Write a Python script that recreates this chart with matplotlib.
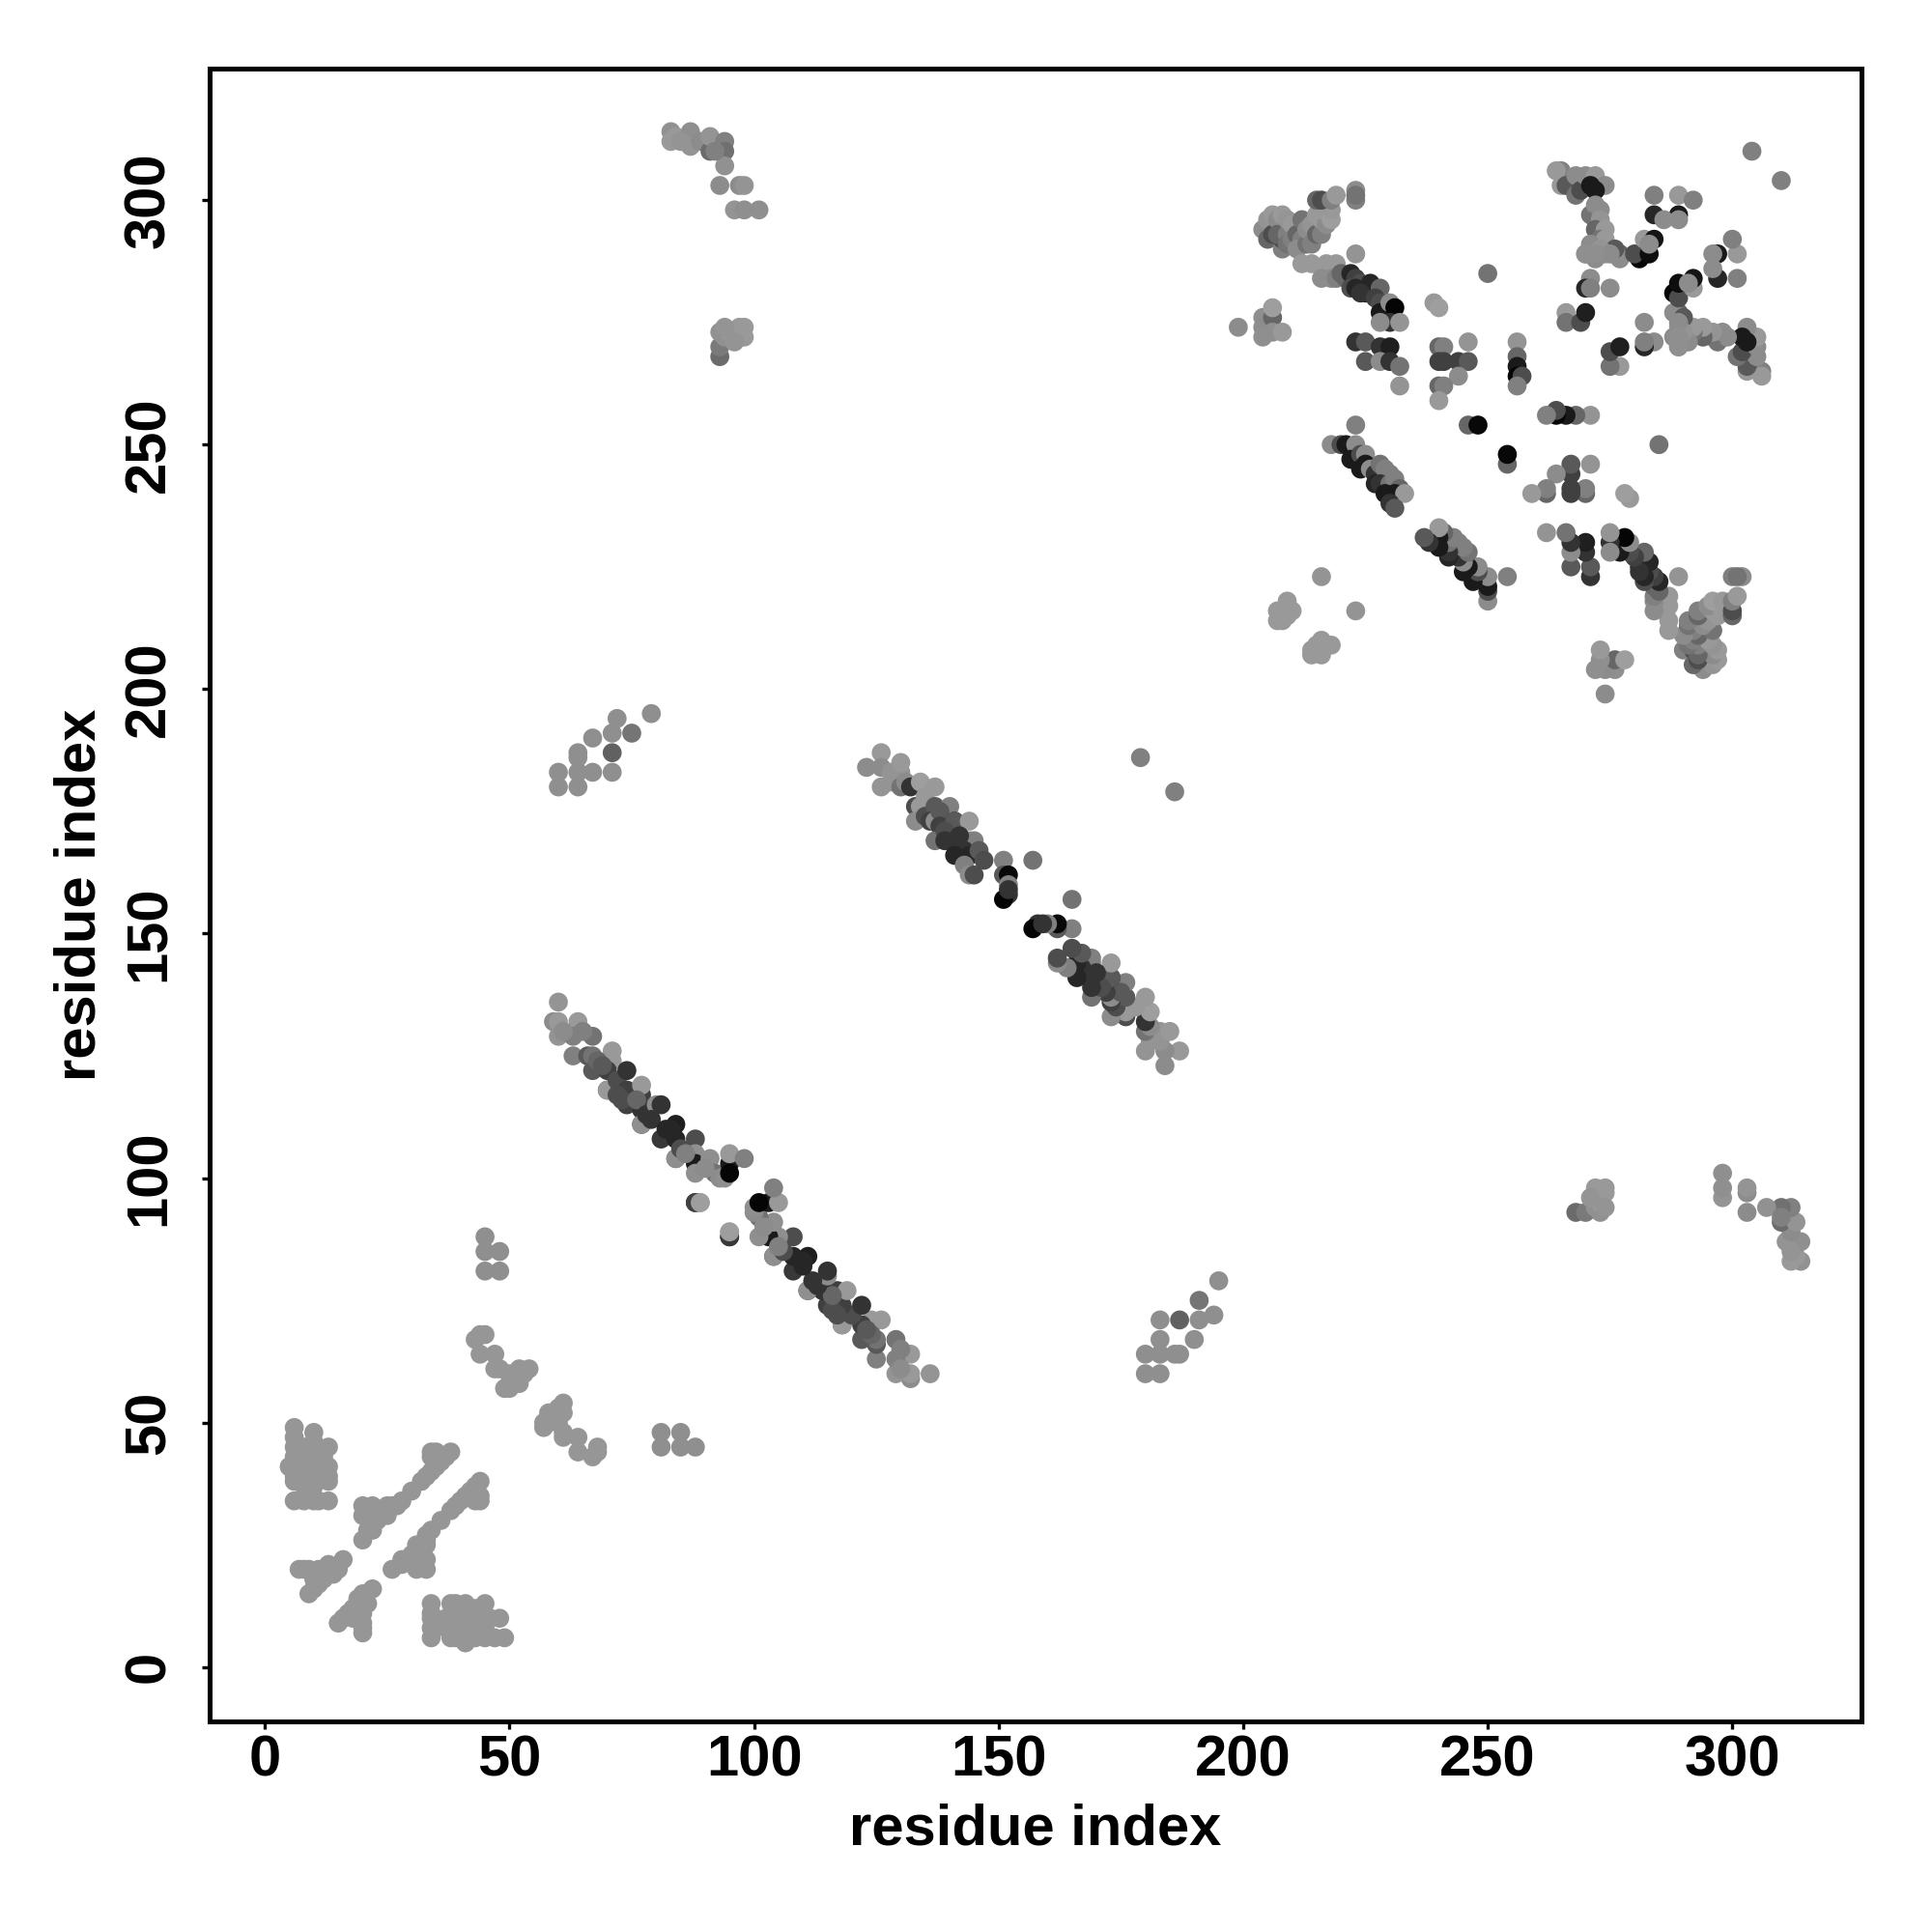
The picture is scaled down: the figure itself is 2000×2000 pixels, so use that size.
import numpy as np
import matplotlib
matplotlib.use("Agg")
import matplotlib.pyplot as plt

# contacts are stored once (i < j), the map is symmetric so both halves get drawn
block_i = [6,6,10,10,13,6,8,9,7,11,5,7,9,11,13,6,8,10,13,13,6,10,6,8,10,11,13]
block_j = [49,47,48,46,45,45,45,44,43,43,41,41,41,41,41,39,39,39,39,38,38,37,34,34,34,34,34]
block_g = 0.59

block2_i = [6,7,8,9,10,5,7,8,10,12,7,8]
block2_j = [43,39,37,42,38,41,41,41,44,43,44,38]
block2_g = 0.59

strand_i = [20,20,21,22,22,20,21,22,23,24,24,25,25,26,27,28,30,32,33,34,34,35,36,34,35,38,37]
strand_j = [26,33,28,28,30,31,32,33,30,32,31,31,33,33,33,34,36,38,39,40,43,41,42,44,44,44,43]
strand_g = 0.59

short_i = [7,9,10,11,12,13,14,15,16,9,10,11,12,10,13,8,14]
short_j = [20,20,19,20,20,21,20,20,22,15,16,17,18,18,19,20,19]
short_g = 0.59

near_i = [43,44,45,44,47,47,48,50,51,52,52,53,54,49,50,50,51,52]
near_j = [67,68,68,64,64,61,61,60,60,60,61,60,61,57,57,58,58,58]
near_g = 0.59

side_i = [45,45,48,45,48,60,60,64,64,64,67,67,71,71,72,79,64]
side_j = [88,85,85,81,81,183,180,180,183,187,183,190,183,191,194,195,186]
side_g = 0.56

side2_i = [71,75]
side2_j = [187,191]
side2_g = [0.38,0.46]

loop_i = [93,93,93,94,95,96,97,98,98,96,94,83,83,84,87,87,85,89,91,91,94,94,94,92,93,97,98,96,98,101]
loop_j = [268,270,273,272,273,273,274,272,274,271,274,314,312,313,314,311,312,312,310,313,312,310,307,310,303,303,303,298,298,298]
loop_g = [0.42,0.48,0.57,0.57,0.6,0.6,0.6,0.6,0.6,0.58,0.58,0.57,0.6,0.6,0.56,0.58,0.58,0.55,0.42,0.58,0.5,0.44,0.57,0.5,0.55,0.55,0.58,0.58,0.56,0.56]

band1_i = [60,59,60,64,60,63,67,61,65,63,66,67,71,71,67,70,68,69,70,70,72,74,74,74,72,73,77,77,77,76,77,77,78,80,81,79,81,82,84,84,84,84,83,85,88,88,88,88,86,91,92,90,93,95,95,98,94,95,88,89,95,95]
band1_j = [136,132,132,132,129,129,129,130,130,125,125,125,126,124,122,122,124,123,118,118,120,122,118,115,117,116,117,119,114,116,111,111,113,115,115,112,108,110,111,108,104,104,110,106,108,105,103,101,105,104,101,102,100,103,105,104,100,101,95,95,88,89]
band1_g = [0.58,0.55,0.6,0.6,0.58,0.5,0.45,0.55,0.5,0.5,0.35,0.45,0.6,0.6,0.35,0.25,0.4,0.35,0.35,0.6,0.3,0.2,0.25,0.25,0.3,0.3,0.25,0.6,0.2,0.4,0.3,0.56,0.2,0.55,0.2,0.2,0.22,0.15,0.12,0.15,0.35,0.56,0.15,0.3,0.3,0.56,0.1,0.56,0.5,0.56,0.45,0.55,0.55,0.1,0.6,0.5,0.56,0.02,0.22,0.62,0.25,0.62]

band2_i = [123,126,126,126,128,128,130,130,130,131,132,134,137,133,134,133,135,135,137,140,136,137,138,138,141,141,144,137,139,139,141,144,145,142,143,141,144,146,147,143,144,145,151,157,151,152,152,152,151,152,179]
band2_j = [184,187,184,180,183,181,183,185,180,181,180,181,180,176,176,173,178,174,176,176,173,173,175,172,173,173,173,169,171,169,169,169,169,170,167,166,166,167,165,164,162,162,165,165,162,162,158,160,157,159,186]
band2_g = [0.55,0.6,0.55,0.58,0.58,0.58,0.58,0.6,0.45,0.55,0.2,0.62,0.6,0.3,0.6,0.55,0.6,0.3,0.35,0.5,0.25,0.55,0.35,0.25,0.2,0.35,0.6,0.45,0.3,0.2,0.2,0.55,0.5,0.2,0.2,0.15,0.15,0.35,0.3,0.5,0.55,0.3,0.5,0.45,0.35,0.03,0.2,0.5,0.02,0.2,0.5]

top_i = [199,204,204,204,206,206,206,208,204,205,205,206,206,207,208,208,208,207,209,209,210,209,210,211,212,212,211,213,213,214,214,215,215,216,216,217,216,217,218,218,215,216,218,219,223,223,223,212,214,217,219,216,218,219,223]
top_j = [274,276,274,272,276,278,273,273,294,292,296,297,293,296,290,297,292,293,293,296,295,291,292,293,296,292,290,291,294,295,291,293,297,293,296,295,298,298,296,298,300,300,300,301,302,300,301,287,287,287,287,284,284,284,289]
top_g = [0.55,0.56,0.55,0.56,0.4,0.62,0.56,0.6,0.55,0.4,0.58,0.6,0.3,0.55,0.5,0.6,0.3,0.4,0.5,0.58,0.6,0.45,0.5,0.4,0.45,0.5,0.55,0.45,0.55,0.58,0.5,0.4,0.6,0.5,0.6,0.55,0.6,0.6,0.62,0.6,0.4,0.3,0.5,0.6,0.55,0.5,0.45,0.6,0.6,0.6,0.6,0.55,0.55,0.5,0.58]

strand2_i = [220,221,222,223,224,222,223,226,225,224,228,227,228,228,230,231,230,232]
strand2_j = [285,284,285,284,283,282,282,283,281,281,282,280,279,277,279,278,275,275]
strand2_g = [0.4,0.4,0.15,0.25,0.3,0.3,0.15,0.15,0.15,0.2,0.4,0.25,0.3,0.1,0.55,0.02,0.2,0.58]

mid_i = [228,223,225,228,230,225,228,230,232,232,239,240,240,241,246,240,241,244,246,244,240,241,240,256,256,256,256,257,256,246,248,250,216]
mid_j = [275,271,271,270,270,267,267,267,266,262,279,278,270,270,271,267,267,267,267,264,262,262,259,271,268,266,264,264,262,254,254,285,223]
mid_g = [0.55,0.2,0.35,0.2,0.12,0.35,0.55,0.2,0.45,0.58,0.6,0.62,0.4,0.5,0.58,0.25,0.25,0.25,0.35,0.55,0.4,0.5,0.6,0.58,0.4,0.1,0.02,0.3,0.5,0.4,0.03,0.45,0.58]

low_i = [209,207,207,210,209,208]
low_j = [218,216,214,216,215,214]
low_g = 0.6

band3_i = [223,218,220,221,223,222,224,225,225,224,226,227,228,227,229,230,228,230,231,229,232,231,233,230,231]
band3_j = [254,250,250,250,250,247,248,248,246,245,245,244,246,242,245,244,242,242,243,240,241,240,240,238,237]
band3_g = [0.5,0.55,0.3,0.1,0.55,0.1,0.3,0.55,0.1,0.1,0.55,0.2,0.45,0.15,0.5,0.5,0.2,0.45,0.5,0.1,0.4,0.1,0.6,0.2,0.35]

corner_i = [265,264,265,266,268,268,268,269,270,272,274,271,272,271,272,272,273,273,272,274,273,274,271,270,271,273,274,277,277,276,271,270,271,275,266,266,269,270]
corner_j = [306,306,303,303,303,301,305,302,305,305,303,303,302,297,299,296,298,296,294,294,292,292,291,289,289,289,289,289,288,290,284,282,282,282,277,275,275,277]
corner_g = [0.5,0.6,0.6,0.35,0.35,0.45,0.55,0.3,0.55,0.6,0.55,0.1,0.1,0.45,0.55,0.45,0.55,0.58,0.4,0.6,0.45,0.6,0.55,0.6,0.55,0.5,0.6,0.4,0.55,0.35,0.55,0.15,0.5,0.55,0.6,0.45,0.3,0.12]

corner2_i = [281,280,282,283,284,284,284,289,292,289,286,289,283,304,288,290,289,289,289]
corner2_j = [288,289,292,289,292,301,297,301,300,297,296,296,291,310,272,273,275,272,270]
corner2_g = [0.02,0.3,0.6,0.05,0.08,0.5,0.15,0.6,0.5,0.1,0.55,0.55,0.55,0.5,0.55,0.58,0.55,0.56,0.56]

groups = [
    (block_i, block_j, block_g),
    (block2_i, block2_j, block2_g),
    (strand_i, strand_j, strand_g),
    (short_i, short_j, short_g),
    (near_i, near_j, near_g),
    (side_i, side_j, side_g),
    (side2_i, side2_j, side2_g),
    (loop_i, loop_j, loop_g),
    (band1_i, band1_j, band1_g),
    (band2_i, band2_j, band2_g),
    (top_i, top_j, top_g),
    (strand2_i, strand2_j, strand2_g),
    (mid_i, mid_j, mid_g),
    (low_i, low_j, low_g),
    (band3_i, band3_j, band3_g),
    (corner_i, corner_j, corner_g),
    (corner2_i, corner2_j, corner2_g),
]

ticks = [0, 50, 100, 150, 200, 250, 300]

plt.rcParams['font.family'] = ['Liberation Sans', 'DejaVu Sans']
plt.rcParams['font.weight'] = 'bold'

fig = plt.figure(figsize=(10, 10), dpi=200)
ax = fig.add_axes([0.1085, 0.109, 0.855, 0.8555])

for a, b, g in groups:
    a = np.array(a)
    b = np.array(b)
    g = np.broadcast_to(g, a.shape)
    cols = [str(v) for v in g]
    ax.scatter(a, b, s=50, c=cols, linewidths=0, zorder=2)
    ax.scatter(b, a, s=50, c=cols, linewidths=0, zorder=2)

ax.set_xlim(-11.3, 326.4)
ax.set_ylim(-11.1, 326.9)
ax.set_xticks(ticks)
ax.set_yticks(ticks)
ax.tick_params(axis='both', length=3, width=1.2, labelsize=21.5)
ax.tick_params(axis='x', pad=2)
ax.tick_params(axis='y', pad=9.5)
for lab in ax.get_yticklabels():
    lab.set_rotation(90)
    lab.set_va('center')
ax.set_xlabel('residue index', fontsize=21.5, fontweight='bold', labelpad=5.5)
ax.set_ylabel('residue index', fontsize=21.5, fontweight='bold', labelpad=6)
for s in ax.spines.values():
    s.set_linewidth(1.8)

fig.savefig('out.png', dpi=200)
plt.close(fig)
